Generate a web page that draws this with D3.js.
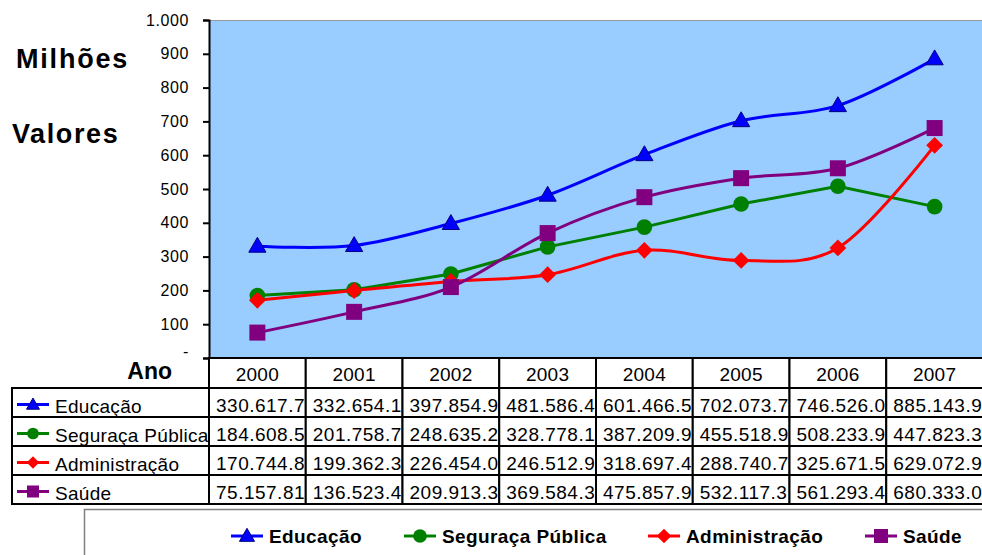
<!DOCTYPE html>
<html>
<head>
<meta charset="utf-8">
<script src="https://cdn.jsdelivr.net/npm/d3@7"></script>
<style>
  body { margin: 0; background: #fff; }
  svg { display: block; font-family: Arial, "Liberation Sans", sans-serif; }
</style>
</head>
<body>
<svg id="chart" width="982" height="555"></svg>
<script>
// values in thousands, as printed in the data table
const anos = ["2000", "2001", "2002", "2003", "2004", "2005", "2006", "2007"];
const educacao = [330617.7, 332654.1, 397854.9, 481586.4, 601466.5, 702073.7, 746526.0, 885143.9];
const seguranca = [184608.5, 201758.7, 248635.2, 328778.1, 387209.9, 455518.9, 508233.9, 447823.3];
const administracao = [170744.8, 199362.3, 226454.0, 246512.9, 318697.4, 288740.7, 325671.5, 629072.9];
const saude = [75157.81, 136523.4, 209913.3, 369584.3, 475857.9, 532117.3, 561293.4, 680333.0];
const yTicks = [0, 100, 200, 300, 400, 500, 600, 700, 800, 900, 1000];

const series = [
  { name: "Educação", values: educacao, color: "#0000ff", shape: "triangle", smooth: true },
  { name: "Seguraça Pública", values: seguranca, color: "#008000", shape: "circle", smooth: false },
  { name: "Administração", values: administracao, color: "#ff0000", shape: "diamond", smooth: true },
  { name: "Saúde", values: saude, color: "#800080", shape: "square", smooth: true }
];

const svg = d3.select("#chart");
const plot = { left: 209, right: 983, top: 20, bottom: 358 };
const rowH = 29;
const headerBottom = 388;

const locale = d3.formatLocale({ decimal: ",", thousands: ".", grouping: [3], currency: ["R$", ""] });
const fmtInt = locale.format(",d");

const x = d3.scaleBand().domain(anos).range([plot.left, plot.right]).padding(0);
const y = d3.scaleLinear().domain([0, 1000]).range([plot.bottom, plot.top]);
const cx = (d) => x(d) + x.bandwidth() / 2;

// plot area
svg.append("rect")
  .attr("x", plot.left).attr("y", plot.top)
  .attr("width", plot.right - plot.left).attr("height", plot.bottom - plot.top)
  .attr("fill", "#99ccff");
svg.append("line")
  .attr("x1", plot.left).attr("x2", plot.right)
  .attr("y1", plot.top + 0.5).attr("y2", plot.top + 0.5)
  .attr("stroke", "#999").attr("stroke-width", 1);

// y axis
const yAxis = d3.axisLeft(y)
  .tickValues(yTicks)
  .tickSize(6)
  .tickPadding(14)
  .tickFormat((d) => d === 0 ? "-" : fmtInt(d));
const gy = svg.append("g").attr("transform", "translate(" + plot.left + ",0)").call(yAxis);
gy.select(".domain").attr("stroke", "#000").attr("stroke-width", 2);
gy.selectAll(".tick line").attr("stroke", "#000").attr("stroke-width", 2);
gy.selectAll(".tick text")
  .attr("font-size", 16).attr("fill", "#000")
  .attr("font-family", "Arial, 'Liberation Sans', sans-serif")
  .attr("letter-spacing", 0.6);
gy.selectAll(".tick").filter((d) => d === 0).select("text").attr("dy", "-0.1em");

// axis titles
svg.append("text").attr("x", 16).attr("y", 68)
  .attr("font-size", 27).attr("font-weight", "bold").attr("letter-spacing", 1.8)
  .text("Milhões");
svg.append("text").attr("x", 12).attr("y", 143)
  .attr("font-size", 27).attr("font-weight", "bold").attr("letter-spacing", 1.6)
  .text("Valores");
svg.append("text").attr("x", 172).attr("y", 379)
  .attr("text-anchor", "end")
  .attr("font-size", 23).attr("font-weight", "bold")
  .text("Ano");

// markers
function marker(shape, size) {
  if (shape === "triangle") return d3.symbol(d3.symbolTriangle, size * size * 0.5)();
  if (shape === "circle") return d3.symbol(d3.symbolCircle, size * size * 0.75)();
  if (shape === "square") return d3.symbol(d3.symbolSquare, size * size)();
  return d3.symbol(d3.symbolSquare, size * size * 0.55)();
}
function drawMarker(g, s, size) {
  const p = g.append("path")
    .attr("d", marker(s.shape, size))
    .attr("fill", s.color);
  if (s.shape === "diamond") p.attr("transform", "rotate(45)");
  if (s.shape === "triangle") p.attr("stroke", "#000080").attr("stroke-width", 1).attr("transform", "translate(0,1)");
  return p;
}

// lines
const lineFor = (smooth) => d3.line()
  .x((d, i) => cx(anos[i]))
  .y((d) => y(d / 1000))
  .curve(smooth ? d3.curveCardinal.tension(0) : d3.curveLinear);

const gLines = svg.append("g");
series.forEach((s) => {
  gLines.append("path")
    .attr("d", lineFor(s.smooth)(s.values))
    .attr("fill", "none")
    .attr("stroke", s.color)
    .attr("stroke-width", 3);
});
series.forEach((s) => {
  s.values.forEach((v, i) => {
    const g = gLines.append("g").attr("transform", "translate(" + cx(anos[i]) + "," + y(v / 1000) + ")");
    drawMarker(g, s, 16);
  });
});

// data table
const table = svg.append("g");
const tableLeft = 12;

table.selectAll("rect.header").data(anos).enter().append("rect")
  .attr("x", (d) => x(d)).attr("y", plot.bottom)
  .attr("width", x.bandwidth()).attr("height", headerBottom - plot.bottom)
  .attr("fill", "#fff").attr("stroke", "#000").attr("stroke-width", 2);
table.selectAll("text.header").data(anos).enter().append("text")
  .attr("x", (d) => cx(d)).attr("y", headerBottom - 7)
  .attr("text-anchor", "middle").attr("font-size", 19).attr("letter-spacing", 0.3)
  .text((d) => d);

const defs = svg.append("defs");
anos.forEach((a, i) => {
  defs.append("clipPath").attr("id", "col" + i)
    .append("rect")
    .attr("x", x(a)).attr("y", headerBottom)
    .attr("width", x.bandwidth() - 1).attr("height", rowH * 4);
});

series.forEach((s, r) => {
  const top = headerBottom + r * rowH;
  table.append("rect")
    .attr("x", tableLeft).attr("y", top)
    .attr("width", plot.left - tableLeft).attr("height", rowH)
    .attr("fill", "#fff").attr("stroke", "#000").attr("stroke-width", 2);
  anos.forEach((a) => {
    table.append("rect")
      .attr("x", x(a)).attr("y", top)
      .attr("width", x.bandwidth()).attr("height", rowH)
      .attr("fill", "#fff").attr("stroke", "#000").attr("stroke-width", 2);
  });
});

series.forEach((s, r) => {
  const base = headerBottom + (r + 1) * rowH - 5;
  const mid = headerBottom + r * rowH + rowH / 2 + 2;
  table.append("line")
    .attr("x1", 17).attr("x2", 49).attr("y1", mid).attr("y2", mid)
    .attr("stroke", s.color).attr("stroke-width", 3);
  drawMarker(table.append("g").attr("transform", "translate(33," + mid + ")"), s, 12);
  table.append("text")
    .attr("x", 55).attr("y", base + 1)
    .attr("font-size", 19).attr("letter-spacing", 0.3)
    .text(s.name);
  s.values.forEach((v, i) => {
    table.append("text")
      .attr("clip-path", "url(#col" + i + ")")
      .attr("x", x(anos[i]) + 7).attr("y", base)
      .attr("font-size", 19).attr("letter-spacing", 0.5)
      .text(fmtInt(Math.round(v * 1000)).slice(0, 9));
  });
});

// legend
const legend = svg.append("g");
legend.append("rect")
  .attr("x", 84.5).attr("y", 509.5)
  .attr("width", 1000).attr("height", 100)
  .attr("fill", "#fff").attr("stroke", "#808080").attr("stroke-width", 1.5);
const legendX = [231, 404, 648, 865];
series.forEach((s, i) => {
  const g = legend.append("g").attr("transform", "translate(" + legendX[i] + ",536)");
  g.append("line").attr("x1", 0).attr("x2", 32).attr("stroke", s.color).attr("stroke-width", 3);
  drawMarker(g.append("g").attr("transform", "translate(16,0)"), s, 14);
  g.append("text")
    .attr("x", 38).attr("y", 7)
    .attr("font-size", 19).attr("font-weight", "bold").attr("letter-spacing", 0.4)
    .text(s.name);
});
</script>
</body>
</html>
